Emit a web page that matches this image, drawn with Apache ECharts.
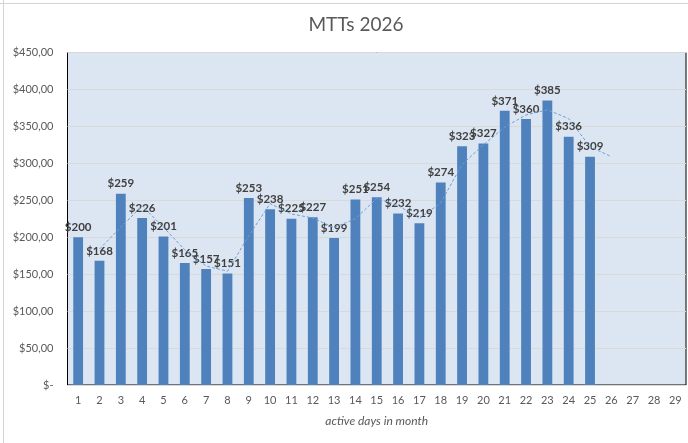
<!DOCTYPE html>
<html>
<head>
<meta charset="utf-8">
<script src="https://cdn.jsdelivr.net/npm/echarts@6/dist/echarts.min.js"></script>
<style>
	html, body { margin: 0; padding: 0; background: #fff; }
	#mtt { width: 688px; height: 443px; }
</style>
</head>
<body>
<div id="mtt"></div>
<script type="text/javascript">
	// days of the month shown on the x axis
	var days = [];
	for (var d = 1; d <= 29; d++) days.push(String(d));

	// MTT per active day
	var mttValues = [200, 168, 259, 226, 201, 165, 157, 151, 253, 238, 225, 227, 199,
		251, 254, 232, 219, 274, 323, 327, 371, 360, 385, 336, 309];

	// dashed trend line (2 period moving average as plotted)
	var trendValues = [null, 184, 213.5, 242.5, 213.5, 183, 161, 154, 202, 245.5, 231.5, 226, 213,
		225, 252.5, 243, 225.5, 246.5, 298.5, 325, 349, 365.5, 372.5, 360.5, 322.5, 309];

	var yTicks = [0, 50, 100, 150, 200, 250, 300, 350, 400, 450];

	var chart = echarts.init(document.getElementById('mtt'), null, { renderer: 'canvas' });

	function money(v) {
		if (v === 0) return '$-';
		return '$' + v.toFixed(2).replace('.', ',');
	}

	chart.setOption({
		animation: false,
		backgroundColor: '#ffffff',
		textStyle: { fontFamily: 'Lato' },
		title: {
			text: 'MTTs 2026',
			left: 351,
			top: 10,
			textAlign: 'center',
			textStyle: { fontFamily: 'Lato', fontSize: 19, fontWeight: 'normal', color: '#595959' }
		},
		// spreadsheet cell edges peeking round the chart area
		graphic: [
			{ type: 'line', shape: { x1: 3.5, y1: 0, x2: 3.5, y2: 443 }, style: { stroke: '#d4d4d4', lineWidth: 1 } },
			{ type: 'line', shape: { x1: 0, y1: 3.5, x2: 688, y2: 3.5 }, style: { stroke: '#d4d4d4', lineWidth: 1 } }
		],
		grid: {
			left: 67.5, right: 2, top: 52.5, bottom: 58,
			show: true,
			backgroundColor: '#dce6f2',
			borderColor: '#000000',
			borderWidth: 1
		},
		xAxis: {
			type: 'category',
			data: days,
			boundaryGap: true,
			name: 'active days in month',
			nameLocation: 'middle',
			nameGap: 30,
			nameTextStyle: { fontStyle: 'italic', fontSize: 12, color: '#595959' },
			axisLine: { show: true, lineStyle: { color: '#d9d9d9', width: 1 } },
			axisTick: { show: false },
			axisLabel: { color: '#595959', fontSize: 11, margin: 10 },
			z: 10
		},
		yAxis: {
			type: 'value',
			min: yTicks[0],
			max: yTicks[yTicks.length - 1],
			interval: 50,
			axisLine: { show: false },
			axisTick: { show: false },
			splitLine: { lineStyle: { color: '#d9d9d9', width: 1 } },
			axisLabel: { color: '#595959', fontSize: 11, margin: 14, formatter: money }
		},
		series: [{
			name: 'MTT',
			type: 'bar',
			data: mttValues,
			barWidth: '46%',
			itemStyle: { color: '#4f81bd' },
			label: {
				show: true,
				position: 'top',
				distance: 4,
				color: '#404040',
				fontSize: 11.5,
				fontWeight: 'bold',
				formatter: function (p) { return '$' + p.value; }
			},
			z: 2
		}, {
			name: 'trend',
			type: 'line',
			data: trendValues,
			symbol: 'none',
			connectNulls: false,
			lineStyle: { color: '#6c9fd8', width: 1, type: [3, 2] },
			z: 3
		}]
	});
</script>
</body>
</html>
